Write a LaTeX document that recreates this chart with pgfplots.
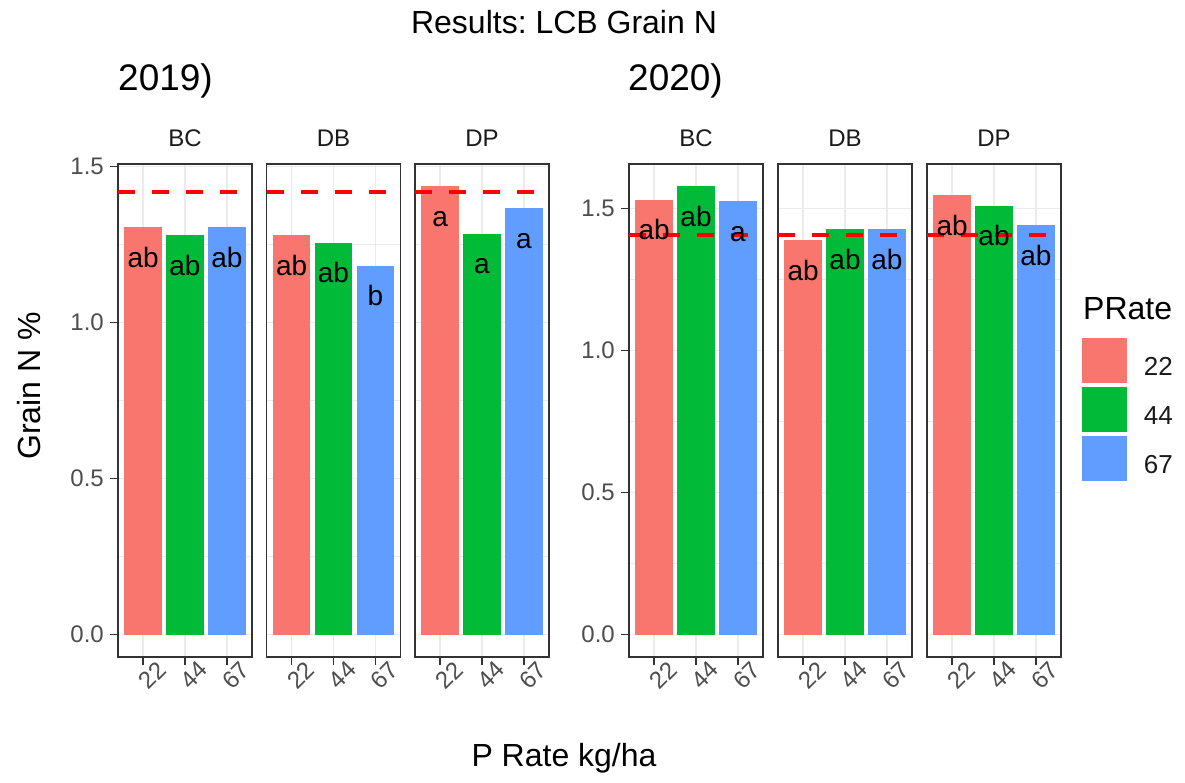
\documentclass[border=0pt]{standalone}
\usepackage{pgfplots}
\pgfplotsset{compat=1.18}
\usepackage{fontspec}
\setmainfont{Liberation Sans}
\frenchspacing
\newcommand\fs[1]{\fontsize{#1pt}{#1pt}\selectfont}
\definecolor{c22}{HTML}{F8766D}
\definecolor{c44}{HTML}{00BA38}
\definecolor{c67}{HTML}{619CFF}
\definecolor{grey10}{HTML}{1A1A1A}
\definecolor{grey20}{HTML}{333333}
\definecolor{grey30}{HTML}{4D4D4D}
\definecolor{grey92}{HTML}{EBEBEB}
\definecolor{hred}{HTML}{FF0000}

\pgfplotsset{
  panel/.style={
    scale only axis, width=134pt, height=493pt, anchor=south west,
    xmin=-0.6, xmax=2.6,
    xtick={0,1,2}, xticklabels={22,44,67},
    ytick={0,0.5,1,1.5}, minor ytick={0.25,0.75,1.25},
    xtick pos=lower, ytick pos=left,
    tick align=outside, major tick length=8pt, minor tick length=0pt,
    axis line style={draw=grey20, line width=1.5pt},
    every tick/.style={draw=grey20, line width=1.4pt},
    xmajorgrids, ymajorgrids, yminorgrids,
    major grid style={draw=grey92, line width=1.6pt},
    minor grid style={draw=grey92, line width=0.8pt},
    ticklabel style={font=\fs{24}, text=grey30, inner sep=0pt},
    xticklabel style={xshift=3pt, yshift=-4pt, rotate=45, anchor=north},
    yticklabel style={xshift=-6pt},
    title style={at={(0.5,1)}, anchor=base, yshift=11.5pt, inner sep=0pt, font=\fs{24}, text=grey10},
    point meta=explicit symbolic,
  },
  leftpanel/.style={panel, yticklabels={0.0,0.5,1.0,1.5}},
  innerpanel/.style={panel, yticklabels={}, ytick style={draw=none}},
  bar/.style={ybar, bar width=0.9, bar shift=0pt, draw=none,
    nodes near coords,
    every node near coord/.style={anchor=base, yshift=-40pt, font=\fs{28}, text=black, inner sep=0pt},
    legend image code/.code={\fill[##1, draw=none] (0pt,-16pt) rectangle (45pt,29pt);}},
  hline/.style={hred, line width=3.5pt, dash pattern=on 17pt off 17pt, forget plot, mark=none},
}
\newcommand\bars[6]{%
  \addplot[bar, fill=c22] coordinates {(0,#1) [#2]};
  \addplot[bar, fill=c44] coordinates {(1,#3) [#4]};
  \addplot[bar, fill=c67] coordinates {(2,#5) [#6]};
}

\begin{document}
\begin{tikzpicture}
\path[use as bounding box] (0pt,0pt) rectangle (1185pt,-782pt);

% ---------------- 2019 ----------------
\begin{axis}[leftpanel, at={(118pt,-657pt)}, ymin=-0.0718, ymax=1.508, title={BC}]
  \bars{1.305}{ab}{1.279}{ab}{1.305}{ab}
  \addplot[hline] coordinates {(-0.6,1.418) (2.6,1.418)};
\end{axis}
\begin{axis}[innerpanel, at={(266.5pt,-657pt)}, ymin=-0.0718, ymax=1.508, title={DB}]
  \bars{1.279}{ab}{1.256}{ab}{1.182}{b}
  \addplot[hline] coordinates {(-0.6,1.418) (2.6,1.418)};
\end{axis}
\begin{axis}[innerpanel, at={(415pt,-657pt)}, ymin=-0.0718, ymax=1.508, title={DP}]
  \bars{1.436}{a}{1.284}{a}{1.366}{a}
  \addplot[hline] coordinates {(-0.6,1.418) (2.6,1.418)};
\end{axis}

% ---------------- 2020 ----------------
\begin{axis}[leftpanel, at={(629pt,-657pt)}, ymin=-0.0789, ymax=1.656, title={BC}]
  \bars{1.531}{ab}{1.577}{ab}{1.525}{a}
  \addplot[hline] coordinates {(-0.6,1.406) (2.6,1.406)};
\end{axis}
\begin{axis}[innerpanel, at={(778pt,-657pt)}, ymin=-0.0789, ymax=1.656, title={DB}]
  \bars{1.388}{ab}{1.427}{ab}{1.427}{ab}
  \addplot[hline] coordinates {(-0.6,1.406) (2.6,1.406)};
\end{axis}
\begin{axis}[innerpanel, at={(927pt,-657pt)}, ymin=-0.0789, ymax=1.656, title={DP},
  legend entries={22,44,67},
  legend style={at={(axis description cs:1.1556,0.647)}, anchor=north west,
    draw=none, fill=none, inner sep=0pt, outer sep=0pt,
    /tikz/row sep=4pt, /tikz/column sep=17pt,
    font=\fs{26}, text=grey10,
    nodes={inner sep=0pt}}]
  \bars{1.546}{ab}{1.509}{ab}{1.441}{ab}
  \addplot[hline] coordinates {(-0.6,1.406) (2.6,1.406)};
\end{axis}

% ---------------- texts ----------------
\node[anchor=base, inner sep=0pt, font=\fs{32}] at (564pt,-33.5pt) {Results: LCB Grain N};
\node[anchor=base west, inner sep=0pt, font=\fs{37}] at (118pt,-90pt) {2019)};
\node[anchor=base west, inner sep=0pt, font=\fs{37}] at (628pt,-90pt) {2020)};
\node[anchor=base, inner sep=0pt, font=\fs{32}] at (564pt,-766pt) {P Rate kg/ha};
\node[anchor=center, inner sep=0pt, rotate=90, font=\fs{32}] at (29.5pt,-386pt) {Grain N \%};
\node[anchor=base west, inner sep=0pt, font=\fs{32}] at (1083pt,-319pt) {PRate};
\end{tikzpicture}
\end{document}
